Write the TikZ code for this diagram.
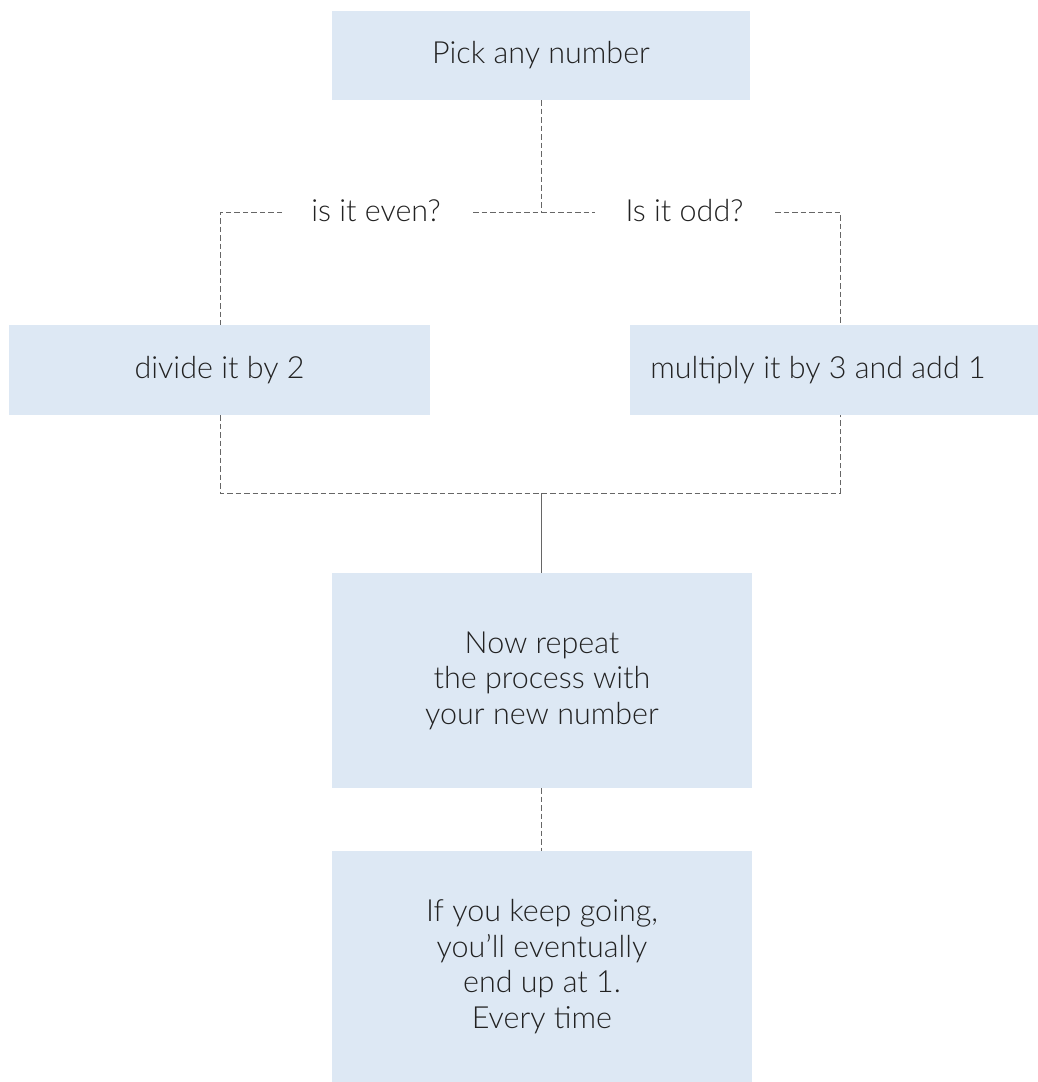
\documentclass[tikz,border=0pt]{standalone}
\usepackage{fontspec}
\setmainfont{Lato}[UprightFont=* Light]
\definecolor{boxfill}{HTML}{DDE8F4}
\definecolor{txt}{HTML}{222222}
\definecolor{ln}{HTML}{666666}
\begin{document}
\begin{tikzpicture}[x=1pt,y=-1pt,
  box/.style={fill=boxfill, draw=none, inner sep=0pt, align=center, text=txt,
    font=\fontsize{30.5}{35.5}\selectfont},
  lbl/.style={inner xsep=0pt, inner ysep=0pt, text=txt, font=\fontsize{30.5}{35.5}\selectfont},
  dline/.style={draw=ln, line width=1pt, dash pattern=on 5.5pt off 3pt},
  sline/.style={draw=ln, line width=1pt}]
\useasboundingbox (0,0) rectangle (1038,1082);
\begin{scope}
\clip (0,0) rectangle (1038,1082);
\node[box, minimum width=418, minimum height=89] (pick) at (541,55.5) {Pick any number};
\node[box, minimum width=421, minimum height=90] (even) at (219.5,370) {divide it by 2};
\node[box, minimum width=408, minimum height=90] (odd) at (834,370) {\hspace*{-32pt}multiply it by 3 and add 1};
\node[box, minimum width=420, minimum height=215] (repeat) at (542,680.5) {Now repeat\\the process with\\your new number};
\node[box, minimum width=420, minimum height=231] (end) at (542,966.5) {If you keep going,\\you'll eventually\\end up at 1.\\Every time};
\end{scope}
\node[lbl] (qeven) at (376,211) {is it even?};
\node[lbl] (qodd) at (684.5,211) {Is it odd?};
\coordinate (j1) at (541,212);
\coordinate (lt) at (220,212);
\coordinate (rt) at (840,212);
\coordinate (lb) at (220,493);
\coordinate (rb) at (840,493);
\coordinate (j2) at (541,493);
\draw[dline] (pick.south -| j1) -- (j1);
\draw[dline] (473,212) -- (595,212);
\draw[dline] (282,212) -- (lt) -- (even.north -| lt);
\draw[dline] (775,212) -- (rt) -- (odd.north -| rt);
\draw[dline] (even.south -| lb) -- (lb) -- (rb) -- (odd.south -| rb);
\draw[sline] (j2) -- (repeat.north -| j2);
\draw[dline] (repeat.south -| j1) -- (end.north -| j1);
\end{tikzpicture}
\end{document}
